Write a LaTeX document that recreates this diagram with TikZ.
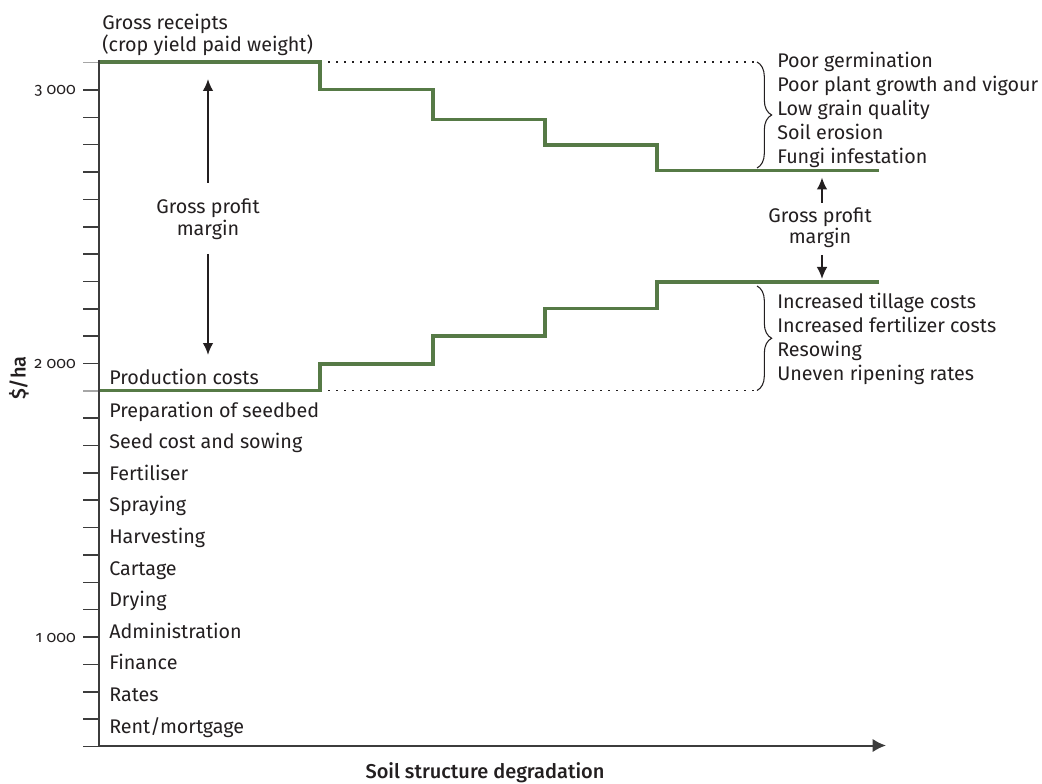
\documentclass[tikz,border=0pt]{standalone}
\usepackage{fontspec}
\setmainfont{Fira Sans}
\newfontfamily\medfont{Fira Sans Medium}
\usetikzlibrary{arrows.meta,decorations.pathreplacing}
\definecolor{grn}{RGB}{86,122,70}
\definecolor{ink}{RGB}{35,31,32}
\definecolor{axisc}{RGB}{60,60,60}
\begin{document}
\begin{tikzpicture}[x=0.75pt,y=-0.75pt,
  lbl/.style={font=\fontsize{14.8}{17}\selectfont, text=ink, inner sep=0pt, anchor=base west},
  clbl/.style={font=\fontsize{14.8}{17}\selectfont, text=ink, inner sep=0pt, anchor=base},
  ticklbl/.style={font=\fontsize{12}{14}\selectfont\addfontfeature{Numbers=OldStyle}, text=ink, inner sep=0pt, anchor=base east},
  axislbl/.style={font=\fontsize{15}{17}\medfont, text=ink, inner sep=0pt},
  stepline/.style={draw=grn, line width=2.4pt, line join=miter},
  dotline/.style={draw=ink, line width=1.2pt, dash pattern=on 1.2pt off 4.8pt},
  bracec/.style={draw=ink, line width=0.8pt, decorate, decoration={brace, amplitude=11pt}},
  arr/.style={draw=ink, line width=1.3pt, -{Latex[length=9pt,width=8pt]}},
  tickc/.style={draw=axisc, line width=1.2pt}]
\useasboundingbox (0,0) rectangle (1042,784);

% ticks
\foreach \v in {600,700,...,3100}{
  \draw[tickc] (83,{90+(3000-\v)*0.2735}) -- (99,{90+(3000-\v)*0.2735});
}
\draw[draw=gray!70, line width=1.2pt] (83,62.6) -- (99,62.6);
\draw[draw=gray!70, line width=1.2pt] (83,391) -- (99,391);

% axes
\coordinate (origin) at (99,745.5);
\coordinate (ytop) at (99,60);
\coordinate (xend) at (886,745.5);
\draw[draw=axisc, line width=1.5pt] (ytop) -- (origin);
\draw[draw=axisc, line width=1.5pt, -{Latex[length=10pt,width=10pt]}] (origin) -- (xend);

% tick labels
\node[ticklbl] (t3) at (76,95) {3 000};
\node[ticklbl] (t2) at (76,368.5) {2 000};
\node[ticklbl] (t1) at (76,642) {1 000};

% axis labels
\node[axislbl, rotate=90] (ylab) at (19,378) {\$/ha};
\node[axislbl, anchor=base] (xlab) at (485,778.5) {Soil structure degradation};

% dotted lines
\coordinate (dt1) at (320,62);
\coordinate (dt2) at (757,62);
\coordinate (db1) at (320,390.5);
\coordinate (db2) at (757,390.5);
\draw[dotline] (dt1) -- (dt2);
\draw[dotline] (db1) -- (db2);

% green step lines
\draw[stepline] (100,62) -- (320,62) -- (320,89.5) -- (433,89.5) -- (433,119.5) -- (545,119.5) -- (545,145) -- (657,145) -- (657,170.5) -- (879,170.5);
\draw[stepline] (100,390.5) -- (320,390.5) -- (320,364) -- (433,364) -- (433,336) -- (545,336) -- (545,308.5) -- (657,308.5) -- (657,282) -- (879,282);

% braces
\coordinate (bt1) at (757,62);
\coordinate (bt2) at (757,168);
\coordinate (bb1) at (757,286);
\coordinate (bb2) at (757,390.5);
\draw[bracec] (bt1) -- (bt2);
\draw[bracec] (bb1) -- (bb2);

% top labels
\node[lbl] (gr1) at (102,30) {Gross receipts};
\node[lbl] (gr2) at (102,52) {(crop yield paid weight)};

% left gross profit margin
\node[clbl] (gpl1) at (208,214) {Gross profit};
\node[clbl] (gpl2) at (208,236) {margin};
\coordinate (alu1) at (208,183);
\coordinate (alu2) at (208,79);
\coordinate (ald1) at (208,254);
\coordinate (ald2) at (208,355);
\draw[arr] (alu1) -- (alu2);
\draw[arr] (ald1) -- (ald2);

% right gross profit margin
\node[clbl] (gpr1) at (820,222.5) {Gross profit};
\node[clbl] (gpr2) at (820,243.5) {margin};
\coordinate (aru1) at (822,203);
\coordinate (aru2) at (822,177.5);
\coordinate (ard1) at (822,255);
\coordinate (ard2) at (822,279);
\draw[arr] (aru1) -- (aru2);
\draw[arr] (ard1) -- (ard2);

% right top list
\node[lbl] (r1) at (777,68) {Poor germination};
\node[lbl] (r2) at (777,92) {Poor plant growth and vigour};
\node[lbl] (r3) at (777,116) {Low grain quality};
\node[lbl] (r4) at (777,140) {Soil erosion};
\node[lbl] (r5) at (777,164) {Fungi infestation};

% right bottom list
\node[lbl] (s1) at (777,308) {Increased tillage costs};
\node[lbl] (s2) at (777,332) {Increased fertilizer costs};
\node[lbl] (s3) at (777,356) {Resowing};
\node[lbl] (s4) at (777,380) {Uneven ripening rates};

% production costs list
\node[lbl] (pc) at (109,384) {Production costs};
\foreach \t [count=\i from 0] in {Preparation of seedbed, Seed cost and sowing, Fertiliser, Spraying, Harvesting, Cartage, Drying, Administration, Finance, Rates, Rent/mortgage}{
  \node[lbl] (c\i) at (109,{417+31.6*\i}) {\t};
}
\end{tikzpicture}
\end{document}
